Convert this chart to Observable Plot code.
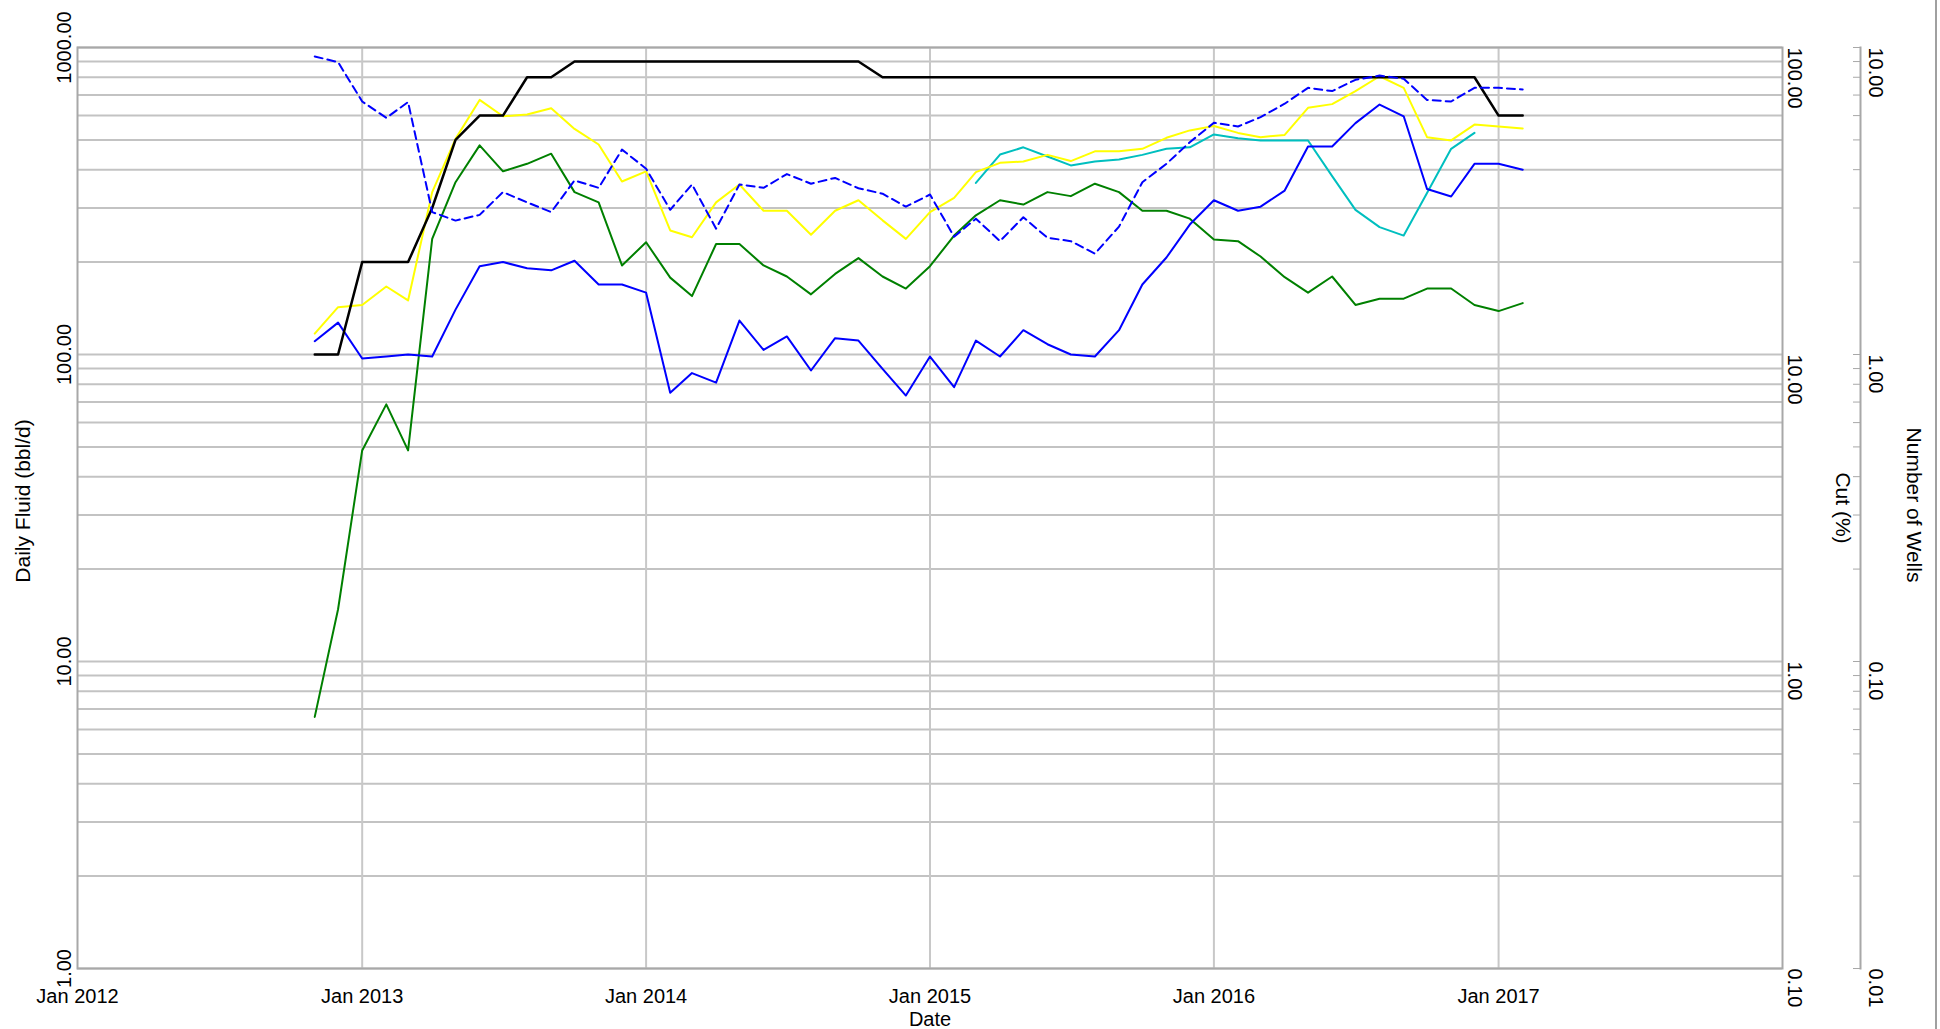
<!DOCTYPE html>
<html>
<head>
<meta charset="utf-8">
<script src="https://cdn.jsdelivr.net/npm/d3@7"></script>
<script src="https://cdn.jsdelivr.net/npm/@observablehq/plot@0.6"></script>
<style>
  html, body { margin: 0; padding: 0; background: #ffffff; }
  #wrap { position: relative; width: 1940px; height: 1029px; overflow: hidden; background: #ffffff; }
  #wrap svg { display: block; }
  #edge { position: absolute; left: 1935px; top: 0; width: 2px; height: 1029px; background: #a0a0a0; }
</style>
</head>
<body>
<div id="wrap"></div>
<script>
// ---- Data (monthly, Nov 2012 .. Feb 2017) ----
const firstMonth = "2012-11-01";
const afterLastMonth = "2017-03-01";

// Number of wells (right-most axis, 0.01 .. 10)
const wells = [1, 1, 2, 2, 2, 3, 5, 6, 6, 8, 8, 9, 9, 9, 9, 9, 9, 9, 9, 9, 9, 9, 9, 9,
  8, 8, 8, 8, 8, 8, 8, 8, 8, 8, 8, 8, 8, 8, 8, 8, 8, 8, 8, 8, 8, 8, 8, 8, 8, 8, 6, 6];

// Daily fluid series (bbl/d, left axis)
const blueSolid = [110.5, 127, 97, 98.5, 100, 98.5, 140, 194, 200, 191, 188, 202, 169, 169, 159, 75, 87, 81, 129, 103.5, 114.5,
  88.7, 113, 111, 89.8, 73.5, 98.5, 78.3, 111, 98.5, 120, 108, 100, 98.5, 120, 169, 207, 265, 318, 294, 303, 342,
  476, 476, 567, 652, 597, 346, 327, 418, 418, 400];

const green = [6.6, 14.8, 48.7, 68.8, 48.7, 238, 364, 480, 395, 418, 451, 338, 313, 195, 232, 178, 155, 229, 229, 195, 179.5,
  157, 183, 206, 179.5, 164, 194, 244, 284, 318, 308, 338, 328, 360, 338, 294, 294, 277, 237, 234, 208.5, 178.6,
  159, 179.5, 145, 152, 152, 164, 164, 145, 138.5, 147];

const yellow = [117, 142.6, 145, 166.5, 150, 338, 504, 675, 597, 605, 634, 543, 483, 366, 395, 253.5, 241, 313, 358, 294, 294,
  245.5, 294, 318, 273.5, 238, 291, 323.6, 392.6, 421, 425, 447, 426.6, 459, 459, 467.7, 508, 537, 555, 527, 510.5, 519,
  636, 654, 721, 806, 739, 510.5, 498, 561, 553, 545];

const blueDashed = [935, 896, 667, 590, 664, 291, 273, 285, 338, 313, 291, 369, 349, 465, 403, 296, 358, 257, 358, 349, 387,
  360, 376, 348, 334, 303, 332, 242, 277, 234, 280, 240, 234, 213, 261, 364, 418, 491.5, 568.5, 553, 593, 656,
  739, 721, 785, 810, 791, 675, 667, 739, 739, 730];

const cyan = [null, null, null, null, null, null, null, null, null, null, null, null, null, null, null, null, null, null, null, null, null,
  null, null, null, null, null, null, null, 362, 448, 473, 441.6, 413, 425, 431.6, 447, 467.7, 473, 521, 506.6, 498, 498,
  498, 381, 296, 260, 244, 336, 467.7, 527, null, null];

// Tick labels
const yearTicks = ["2012-01-01", "2013-01-01", "2014-01-01", "2015-01-01", "2016-01-01", "2017-01-01"];
const fluidTicks = [1, 10, 100, 1000];
const cutTicks = [0.1, 1, 10, 100];
const wellTicks = [0.01, 0.1, 1, 10];

// ---- Build table ----
const months = d3.utcMonth.range(new Date(firstMonth), new Date(afterLastMonth));
const rows = months.map((date, i) => ({
  date, wells: wells[i], blueSolid: blueSolid[i], green: green[i],
  yellow: yellow[i], blueDashed: blueDashed[i], cyan: cyan[i]
}));
const years = yearTicks.map(s => new Date(s));
const logTicks = d3.scaleLog().domain([1, 1000]).ticks();
const fmt = d3.format(".2f");
const yearFmt = d3.utcFormat("%b %Y");
const font = "'Liberation Sans', Arial, sans-serif";

const chart = Plot.plot({
  width: 1940,
  height: 1029,
  marginLeft: 77,
  marginRight: 158,
  marginTop: 47,
  marginBottom: 61,
  style: { fontFamily: font, fontSize: "20px", background: "#ffffff", color: "#000000", overflow: "visible" },
  x: { type: "utc", domain: [new Date("2012-01-01"), new Date("2018-01-01")], axis: null },
  y: { type: "log", domain: [1, 1000] },
  marks: [
    Plot.gridY(logTicks, { stroke: "#c3c3c3", strokeOpacity: 1, strokeWidth: 2 }),
    Plot.gridX(years.slice(1), { stroke: "#c8c8c8", strokeOpacity: 1, strokeWidth: 2 }),
    Plot.frame({ stroke: "#a8a8a8", strokeWidth: 2 }),

    Plot.line(rows, { x: "date", y: "cyan", stroke: "#00bfbf", strokeWidth: 2 }),
    Plot.line(rows, { x: "date", y: "yellow", stroke: "#ffff00", strokeWidth: 2 }),
    Plot.line(rows, { x: "date", y: "green", stroke: "#008000", strokeWidth: 2 }),
    Plot.line(rows, { x: "date", y: "blueSolid", stroke: "#0000ff", strokeWidth: 2 }),
    Plot.line(rows, { x: "date", y: d => d.wells * 100, stroke: "#000000", strokeWidth: 2.5 }),
    Plot.line(rows, { x: "date", y: "blueDashed", stroke: "#0000ff", strokeWidth: 2, strokeDasharray: "8,5" }),

    // x axis
    Plot.text(years, { x: d => d, text: d => yearFmt(d), frameAnchor: "bottom", dy: 34,
      textAnchor: "middle", lineAnchor: "bottom", fontSize: 20 }),
    Plot.text(["Date"], { frameAnchor: "bottom", dy: 57, textAnchor: "middle", lineAnchor: "bottom", fontSize: 20 }),

    // left axis: Daily Fluid
    Plot.text(fluidTicks, { y: d => d, text: d => fmt(d), frameAnchor: "left", dx: -7, rotate: -90,
      textAnchor: "middle", lineAnchor: "bottom", fontSize: 20 }),
    Plot.text(["Daily Fluid (bbl/d)"], { frameAnchor: "left", dx: -54, dy: -7, rotate: -90,
      textAnchor: "middle", lineAnchor: "middle", fontSize: 21 }),

    // right axis: Cut (%)
    Plot.text(cutTicks, { y: d => d * 10, text: d => fmt(d), frameAnchor: "right", dx: 5, rotate: 90,
      textAnchor: "start", lineAnchor: "bottom", fontSize: 20 }),
    Plot.text(["Cut (%)"], { frameAnchor: "right", dx: 60, rotate: 90,
      textAnchor: "middle", lineAnchor: "middle", fontSize: 21 }),

    // far-right axis: Number of Wells
    Plot.frame({ anchor: "left", dx: 1783, stroke: "#a8a8a8", strokeWidth: 2 }),
    Plot.axisY(logTicks, { anchor: "left", dx: 1783, tickSize: 7, tickFormat: () => "", stroke: "#a8a8a8", label: null }),
    Plot.text(wellTicks, { y: d => d * 100, text: d => fmt(d), frameAnchor: "right", dx: 86, rotate: 90,
      textAnchor: "start", lineAnchor: "bottom", fontSize: 20 }),
    Plot.text(["Number of Wells"], { frameAnchor: "right", dx: 131, dy: -3, rotate: 90,
      textAnchor: "middle", lineAnchor: "middle", fontSize: 21 })
  ]
});

const wrap = document.getElementById("wrap");
wrap.appendChild(chart);
const edge = document.createElement("div");
edge.id = "edge";
wrap.appendChild(edge);
</script>
</body>
</html>
